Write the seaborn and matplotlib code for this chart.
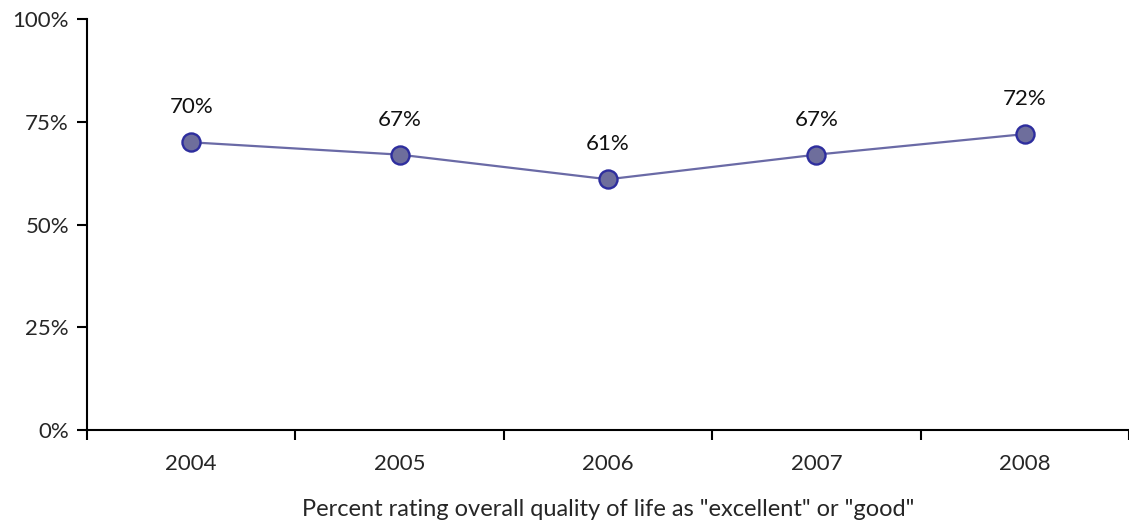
import pandas as pd
import matplotlib.pyplot as plt
import seaborn as sns
from matplotlib.ticker import PercentFormatter

# Chart data
years = ['2004', '2005', '2006', '2007', '2008']
rating = [70, 67, 61, 67, 72]
x_label = 'Percent rating overall quality of life as "excellent" or "good"'

df = pd.DataFrame({'pos': range(len(years)), 'year': years, 'rating': rating})

sns.set_style('white')
plt.rcParams['font.family'] = ['Lato', 'DejaVu Sans']

fig = plt.figure(figsize=(11.29, 5.22), dpi=100)
ax = fig.add_axes([0.0771, 0.1762, 0.9229, 0.7874])

sns.lineplot(data=df, x='pos', y='rating', ax=ax, color='#6a6aa6', linewidth=1.6,
             marker='o', markersize=13, markerfacecolor='#6e6e9c',
             markeredgecolor='#2e2e9e', markeredgewidth=1.7)

# Value labels above points
for _, row in df.iterrows():
    ax.annotate(f"{row['rating']}%", (row['pos'], row['rating']),
                xytext=(0, 18), textcoords='offset points',
                ha='center', va='bottom', fontsize=16, color='#111111')

ax.set_xlim(-0.5, len(years) - 0.5)
ax.set_ylim(0, 100)
ax.set_yticks([0, 25, 50, 75, 100])
ax.yaxis.set_major_formatter(PercentFormatter(decimals=0))

# tick marks between categories, labels under categories
ax.set_xticks([i - 0.5 for i in range(len(years) + 1)])
ax.set_xticklabels([])
ax.set_xticks(range(len(years)), minor=True)
ax.set_xticklabels(years, minor=True)
ax.tick_params(axis='x', which='major', bottom=True, direction='out', length=7,
               width=1.5, color='black')
ax.tick_params(axis='x', which='minor', bottom=True, length=0, pad=17, labelsize=16)
ax.tick_params(axis='y', left=True, direction='out', length=7, width=1.5,
               color='black', labelsize=16, pad=6)

for side in ['top', 'right']:
    ax.spines[side].set_visible(False)
for side in ['left', 'bottom']:
    ax.spines[side].set_color('black')
    ax.spines[side].set_linewidth(1.5)

ax.set_xlabel(x_label, fontsize=17, labelpad=18)
ax.set_ylabel('')

fig.savefig('out.png', dpi=100)
